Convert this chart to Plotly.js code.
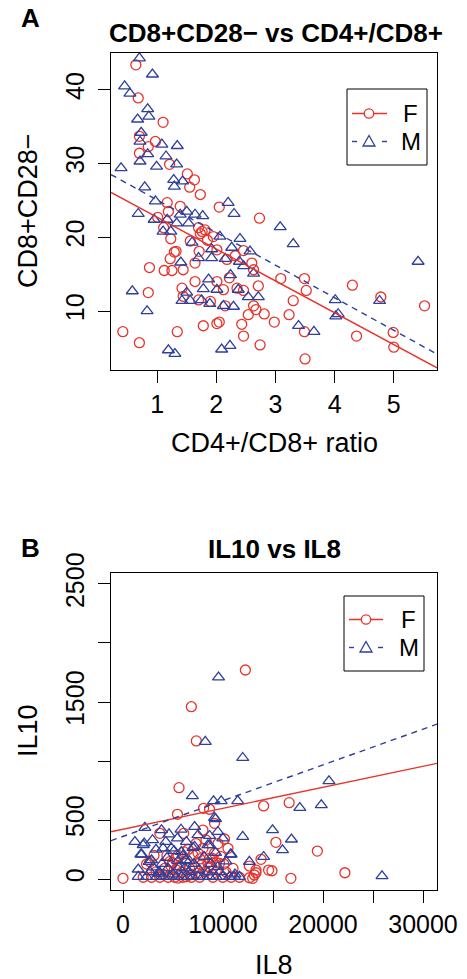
<!DOCTYPE html>
<html><head><meta charset="utf-8">
<script src="https://cdn.plot.ly/plotly-3.0.1.min.js"></script>
<style>html,body{margin:0;padding:0;background:#fff}#chart{width:467px;height:979px}</style>
</head><body><div id="chart"></div>
<script>
// ---- Panel A data: CD8+CD28- (%) vs CD4+/CD8+ ratio ----
const topFx = [0.64,0.68,1.10,0.70,0.97,0.85,0.70,1.21,1.51,1.63,1.55,1.73,1.17,1.39,1.19,2.05,2.73,1.01,1.11,1.70,1.81,1.73,1.95,1.23,1.56,1.32,1.29,1.71,2.01,1.22,1.64,2.18,2.32,2.46,2.60,0.87,1.12,1.25,1.44,2.63,1.64,2.01,2.22,1.42,2.12,2.35,2.46,2.71,0.85,1.44,1.70,1.90,2.15,2.63,2.67,2.54,2.81,1.78,2.01,2.05,2.43,1.34,0.42,2.46,0.70,2.74,3.09,3.49,3.52,4.30,3.30,4.78,5.52,3.23,2.98,3.49,4.37,4.99,5.00,3.50,1.76,1.85];
const topFy = [43.4,38.9,35.6,33.7,33.0,32.3,31.4,29.9,28.6,27.8,26.8,25.8,24.7,24.2,23.5,24.1,22.6,22.7,21.3,21.3,21.0,20.5,20.1,19.8,19.5,18.1,18.0,18.1,18.3,17.1,16.5,17.0,17.5,18.2,16.5,15.9,15.5,15.5,15.6,15.6,14.0,14.0,14.5,13.1,12.9,13.1,12.8,13.4,12.5,12.0,11.5,11.3,10.7,10.7,10.2,9.5,9.6,8.0,8.3,8.5,8.2,7.2,7.2,6.6,5.7,5.4,14.4,14.4,12.8,13.5,11.4,11.9,10.7,9.5,8.5,7.2,6.6,7.1,5.1,3.5,20.8,19.6];
const topMx = [0.70,0.92,0.45,0.54,0.84,0.67,0.86,0.73,0.71,1.08,1.34,0.84,0.71,1.15,0.99,1.33,0.39,1.28,1.43,0.79,1.29,0.97,2.20,2.30,0.68,0.95,1.17,1.39,1.50,1.64,1.77,1.33,1.53,1.10,1.23,1.59,2.06,2.40,2.26,1.92,2.57,1.40,1.70,1.92,2.15,2.39,2.46,2.63,2.24,1.87,1.78,2.01,2.37,1.50,0.58,1.42,1.56,1.75,1.89,2.54,2.71,2.29,0.83,2.12,1.19,1.30,2.09,2.23,3.08,3.30,5.41,4.01,4.76,4.06,4.02,3.39,3.65];
const topMy = [44.3,42.1,40.5,39.5,37.4,36.0,36.4,34.2,33.0,32.6,32.4,31.3,30.3,31.0,29.6,29.9,29.4,27.8,27.6,26.8,26.9,24.9,24.7,23.2,23.2,22.4,22.4,23.1,23.5,23.1,22.9,21.9,21.9,20.8,20.8,19.3,20.1,19.8,18.6,18.4,18.1,16.6,17.2,17.2,17.1,16.7,16.1,15.1,14.9,14.3,13.0,12.9,12.9,12.5,12.7,11.4,11.4,11.5,11.0,11.9,11.9,10.6,10.0,10.7,4.7,4.2,4.8,5.3,21.4,19.1,16.7,11.5,11.4,9.6,9.3,8.0,7.2];
// fitted lines (intercept, slope)
const topFitF = [27.04, -4.32];
const topFitM = [29.48, -4.42];
const topXTicks = [1,2,3,4,5];
const topYTicks = [10,20,30,40];

// ---- Panel B data: IL10 vs IL8 ----
const botFx = [12239,6836,7333,5602,8060,8657,14060,5443,9154,3682,6070,7990,9154,2358,4945,5672,7831,8488,9652,8925,10080,12637,13801,4179,13300,0,12968,14560,16617,15289,19433,14895,16786,22189,2690,10150,8660,8590,4680,5340,6650,7490,13130,13300,12640,2020,2850,4510,5170,6000,6840,7660,8990,9980,10810,11640,3680,5500,6340,6500,7000,8000,5500,9500,10500,7500,3300,4000,4800,5200,5900,6300,6900,7200,7700,8200,8900,9300,10300,11000,4400,6100,7300,8300,3100,9800];
const botFy = [1771,1460,1170,774,599,591,619,548,472,387,387,415,218,127,138,110,119,138,133,175,127,110,167,91,53,6,6,76,647,311,237,70,6,53,147,339,175,104,147,76,91,48,34,76,11,15,15,15,15,15,15,15,15,15,15,15,15,8,20,250,200,260,200,300,260,220,60,40,110,170,60,130,40,100,170,60,40,140,60,90,200,230,300,330,200,190];
const botMx = [9552,8229,11970,6935,9055,9821,11473,9154,2189,3851,7164,9483,11970,1194,2119,2955,4279,5443,6338,7493,8488,9980,4010,6995,1791,5104,9254,10746,2617,6269,12637,14060,1522,3614,20597,17681,19831,14955,16846,15950,25900,9250,8660,2020,4840,8660,1860,5830,7160,2850,5490,6650,10810,4500,6170,9480,3650,8490,1520,2360,3350,4010,4680,5340,5840,6500,6990,7490,7990,8650,9320,9980,10650,11140,11640,2700,3900,4400,5000,5600,6000,6600,7100,7600,8100,8800,9700,10300,11200,3300,4600,5800,3000];
const botMy = [1709,1164,1028,703,661,661,661,520,435,415,443,401,359,316,303,331,316,345,316,373,288,345,260,265,209,240,223,209,147,161,147,189,82,62,830,604,627,415,336,246,25,508,367,288,260,288,209,231,274,161,153,153,209,91,91,104,48,57,20,20,20,20,20,20,20,20,20,20,20,20,20,20,20,20,20,60,130,180,40,100,200,60,130,80,190,130,60,150,40,250,380,420,100];
const botFitF = [422, 0.01776];
const botFitM = [361, 0.0303];
const botXTicks = [0,5000,10000,15000,20000,25000,30000];
const botXText = ['0','','10000','','20000','','30000'];
const botYTicks = [0,500,1000,1500,2000,2500];
const botYText = ['0','500','','1500','','2500'];

const groups = ['F','M'];
const titles = ['CD8+CD28\u2212 vs CD4+/CD8+','IL10 vs IL8'];
const xTitles = ['CD4+/CD8+ ratio','IL8'];
const yTitles = ['CD8+CD28\u2212','IL10'];
const letters = ['A','B'];

// ---- styling ----
const RED = '#E8332B', BLUE = '#2E3F9C';
const FONT = 'Liberation Sans, Arial, Helvetica, sans-serif';
const topXR = [0.22, 5.73], topYR = [2.0, 45.0];
const botXR = [-1200, 31400], botYR = [-93, 2593];

function pts(x, y, xa, ya, col, sym, size) {
  return {type:'scatter', mode:'markers', x:x, y:y, xaxis:xa, yaxis:ya, hoverinfo:'skip',
    marker:{symbol:sym, size:size, color:col, line:{color:col, width:1.3}}, cliponaxis:false};
}
function fit(coef, xr, xa, ya, col, dash) {
  const xs = [xr[0], xr[1]];
  return {type:'scatter', mode:'lines', x:xs, y:xs.map(v => coef[0] + coef[1]*v), xaxis:xa, yaxis:ya,
    hoverinfo:'skip', line:{color:col, width:1.4, dash:dash}};
}

const traces = [
  pts(topFx, topFy, 'x', 'y', RED, 'circle-open', 10),
  pts(topMx, topMy, 'x', 'y', BLUE, 'triangle-up-open', 10.5),
  fit(topFitF, topXR, 'x', 'y', RED, 'solid'),
  fit(topFitM, topXR, 'x', 'y', BLUE, '6px,5px'),
  pts(botFx, botFy, 'x2', 'y2', RED, 'circle-open', 10),
  pts(botMx, botMy, 'x2', 'y2', BLUE, 'triangle-up-open', 10.5),
  fit(botFitF, botXR, 'x2', 'y2', RED, 'solid'),
  fit(botFitM, botXR, 'x2', 'y2', BLUE, '6px,5px')
];

// pixel -> paper helpers
const L = 111, R = 437, T = 53, B = 890, W = R - L, H = B - T;
const PX = p => (p - L) / W;
const PY = p => (B - p) / H;

const axBase = {
  showline:true, mirror:true, linecolor:'#000', linewidth:1, showgrid:false, zeroline:false,
  ticks:'outside', ticklen:12, tickwidth:1, tickcolor:'#000',
  tickfont:{family:FONT, size:25, color:'#000'}, tickmode:'array', fixedrange:true
};

const shapes = [], annotations = [];
function ann(text, px, py, opts) {
  annotations.push(Object.assign({text:text, x:PX(px), y:PY(py), xref:'paper', yref:'paper',
    showarrow:false, xanchor:'center', yanchor:'middle', font:{family:FONT, size:27, color:'#000'}}, opts||{}));
}
function legend(bx0, by0, bx1, by1, lx0, lx1, cx, rowF, rowM, tx) {
  shapes.push({type:'rect', xref:'paper', yref:'paper', x0:PX(bx0), x1:PX(bx1), y0:PY(by1), y1:PY(by0),
    line:{color:'#000', width:1}, fillcolor:'rgba(0,0,0,0)'});
  shapes.push({type:'line', xref:'paper', yref:'paper', x0:PX(lx0), x1:PX(lx1), y0:PY(rowF), y1:PY(rowF),
    line:{color:RED, width:1.4}});
  shapes.push({type:'circle', xref:'paper', yref:'paper', x0:PX(cx-4.7), x1:PX(cx+4.7), y0:PY(rowF+4.7), y1:PY(rowF-4.7),
    line:{color:RED, width:1.3}, fillcolor:'#fff'});
  shapes.push({type:'line', xref:'paper', yref:'paper', x0:PX(lx0), x1:PX(lx0+5), y0:PY(rowM), y1:PY(rowM),
    line:{color:BLUE, width:1.4}});
  shapes.push({type:'line', xref:'paper', yref:'paper', x0:PX(lx1-5), x1:PX(lx1), y0:PY(rowM), y1:PY(rowM),
    line:{color:BLUE, width:1.4}});
  const tri = 'M' + PX(cx-6) + ',' + PY(rowM+4.5) + ' L' + PX(cx+6) + ',' + PY(rowM+4.5) + ' L' + PX(cx) + ',' + PY(rowM-6) + ' Z';
  shapes.push({type:'path', xref:'paper', yref:'paper', path:tri, line:{color:BLUE, width:1.3}});
  ann('F', tx, rowF, {xanchor:'left', font:{family:FONT, size:24, color:'#000'}});
  ann('M', tx-2, rowM, {xanchor:'left', font:{family:FONT, size:24, color:'#000'}});
}

// titles and labels
ann('<b>' + titles[0] + '</b>', 276, 33, {font:{family:FONT, size:26, color:'#000'}});
ann('<b>' + letters[0] + '</b>', 30, 18, {font:{family:FONT, size:26, color:'#000'}});
ann(xTitles[0], 274, 443);
ann(yTitles[0], 28, 211, {textangle:-90});
ann('<b>' + titles[1] + '</b>', 274, 549, {font:{family:FONT, size:26, color:'#000'}});
ann('<b>' + letters[1] + '</b>', 30, 548, {font:{family:FONT, size:26, color:'#000'}});
ann(xTitles[1], 274, 965);
ann(yTitles[1], 28, 731, {textangle:-90});

legend(347, 89, 427, 165, 352, 387, 369, 113.5, 141.5, 401);
legend(344, 596, 424, 671, 349, 383, 366, 619.5, 647.5, 399);

const layout = {
  width:467, height:979, margin:{l:L, r:467-R, t:T, b:979-B}, showlegend:false,
  paper_bgcolor:'#fff', plot_bgcolor:'#fff',
  xaxis:Object.assign({}, axBase, {domain:[0,1], anchor:'y', range:topXR, tickvals:topXTicks}),
  yaxis:Object.assign({}, axBase, {domain:[PY(370),1], anchor:'x', range:topYR, tickvals:topYTicks, tickangle:-90, ticklabelstandoff:4}),
  xaxis2:Object.assign({}, axBase, {domain:[0,1], anchor:'y2', range:botXR, tickvals:botXTicks, ticktext:botXText}),
  yaxis2:Object.assign({}, axBase, {domain:[0,PY(573)], anchor:'x2', range:botYR, tickvals:botYTicks, ticktext:botYText, tickangle:-90, ticklabelstandoff:4}),
  shapes:shapes, annotations:annotations
};

Plotly.newPlot('chart', traces, layout, {staticPlot:true, displayModeBar:false});
</script></body></html>
